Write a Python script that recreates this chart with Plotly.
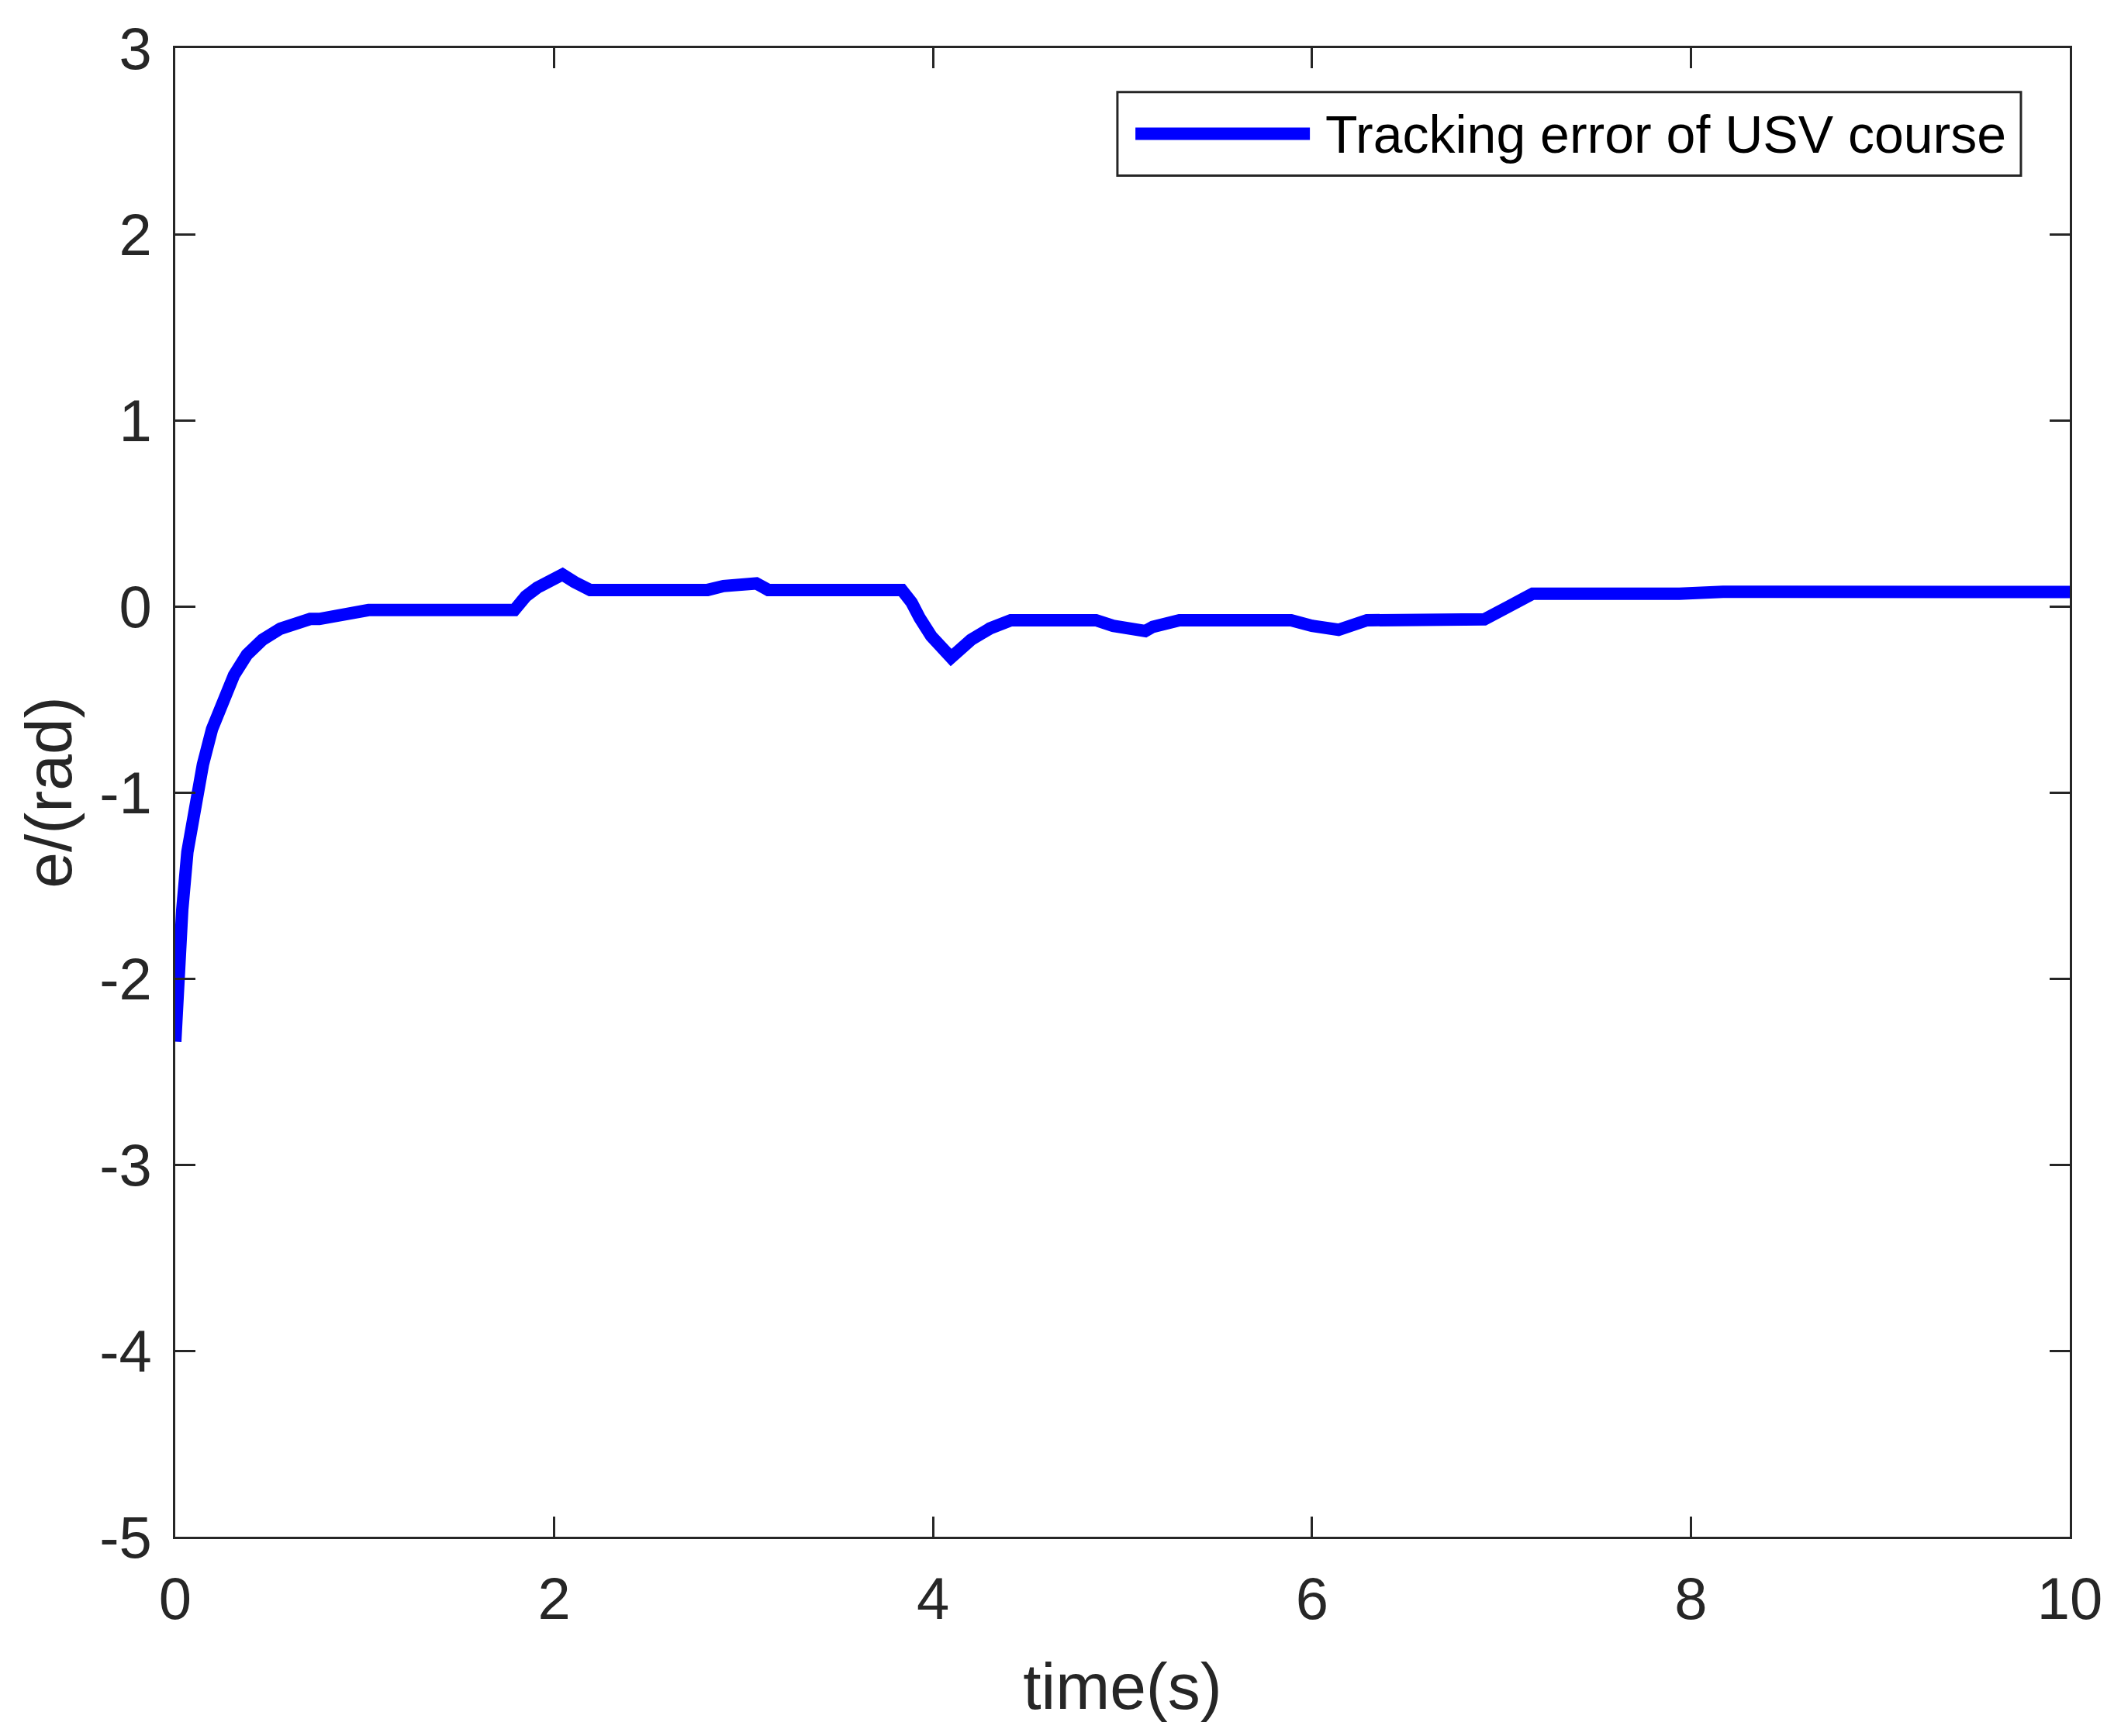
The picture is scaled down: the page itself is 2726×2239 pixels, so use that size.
"""Tracking error of USV course: time history of the heading error."""
import plotly.graph_objects as go

# data
time_s = [0, 0.016, 0.037, 0.064, 0.098, 0.146, 0.194, 0.248, 0.31, 0.378,
          0.46, 0.555, 0.637, 0.712, 0.76, 0.883, 1.02, 1.79, 1.85, 1.91,
          1.98, 2.044, 2.108, 2.19, 2.81, 2.894, 3.067, 3.13, 3.835, 3.887,
          3.93, 3.99, 4.095, 4.2, 4.30, 4.41, 4.86, 4.95, 5.12, 5.16,
          5.30, 5.89, 6.0, 6.14, 6.29, 6.91, 7.04, 7.165, 7.94, 8.17, 10]
err_rad = [-2.34, -1.97, -1.63, -1.32, -1.08, -0.85, -0.66, -0.51, -0.37, -0.26,
           -0.18, -0.12, -0.085, -0.068, -0.068, -0.042, -0.02, -0.02, 0.054, 0.10,
           0.144, 0.171, 0.13, 0.088, 0.088, 0.109, 0.123, 0.088, 0.088, 0.02,
           -0.064, -0.16, -0.275, -0.18, -0.119, -0.075, -0.075, -0.105, -0.133, -0.11,
           -0.075, -0.075, -0.105, -0.126, -0.075, -0.07, 0.0, 0.068, 0.068, 0.078, 0.077]
series_name = "Tracking error of USV course"
x_ticks = [0, 2, 4, 6, 8, 10]
x_labels = ["0", "2", "4", "6", "8", "10"]
y_ticks = [-5, -4, -3, -2, -1, 0, 1, 2, 3]
y_labels = ["-5", "-4", "-3", "-2", "-1", "0", "1", "2", "3"]

BLUE = "#0000ff"
AXC = "#262626"
FONT = "Liberation Sans, Arial, Helvetica, sans-serif"

fig = go.Figure()
fig.add_trace(go.Scatter(
    x=time_s, y=err_rad, mode="lines", name=series_name,
    line=dict(color=BLUE, width=16), showlegend=False,
))

axis_common = dict(
    showline=True, linecolor=AXC, linewidth=3, mirror="ticks",
    ticks="inside", ticklen=26, tickwidth=3, tickcolor=AXC,
    showgrid=False, zeroline=False, ticklabelstandoff=12,
    tickfont=dict(family=FONT, size=76, color=AXC),
)
fig.update_xaxes(range=[0, 10], tickvals=x_ticks, ticktext=x_labels,
                 title=dict(text="time(s)", font=dict(family=FONT, size=84, color=AXC), standoff=42),
                 **axis_common)
fig.update_yaxes(range=[-5, 3], tickvals=y_ticks, ticktext=y_labels,
                 title=dict(text="e/(rad)", font=dict(family=FONT, size=84, color=AXC), standoff=8),
                 **axis_common)

# hand-built legend box (MATLAB style, long line sample)
fig.add_shape(type="rect", xref="paper", yref="paper",
              x0=0.4973, x1=0.9742, y0=0.9143, y1=0.9704,
              line=dict(color=AXC, width=3), fillcolor="white", layer="above")
fig.add_shape(type="line", xref="paper", yref="paper",
              x0=0.5068, x1=0.5989, y0=0.9424, y1=0.9424,
              line=dict(color=BLUE, width=16), layer="above")
fig.add_annotation(text=series_name, xref="paper", yref="paper",
                   x=0.6062, y=0.9424, xanchor="left", yanchor="middle",
                   showarrow=False, font=dict(family=FONT, size=68, color="black"))

# the page body has an 8px default margin, so the margins are trimmed by that
fig.update_layout(
    width=2726, height=2239,
    margin=dict(l=218, r=65, t=48, b=265),
    paper_bgcolor="white", plot_bgcolor="white",
    font=dict(family=FONT, color=AXC),
)

fig.write_html("out.html")
